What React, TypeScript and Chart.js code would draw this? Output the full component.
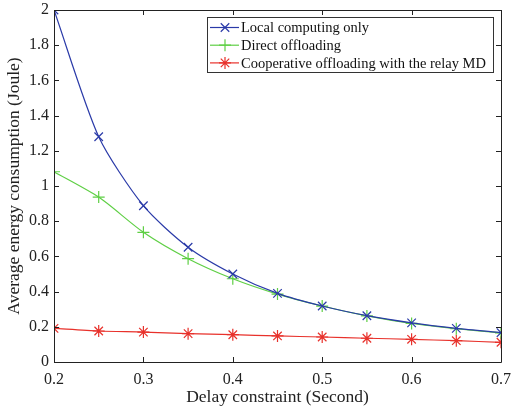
import React, { useEffect, useRef } from "react";
import { Chart, registerables } from "chart.js";

Chart.register(...registerables);

const delays = [0.2, 0.25, 0.3, 0.35, 0.4, 0.45, 0.5, 0.55, 0.6, 0.65, 0.7];
const localOnly = [2.0, 1.28, 0.888, 0.652, 0.5, 0.39, 0.318, 0.263, 0.222, 0.191, 0.167];
const directOff = [1.081, 0.937, 0.737, 0.587, 0.473, 0.386, 0.318, 0.262, 0.219, 0.189, 0.165];
const cooperative = [0.191, 0.176, 0.17, 0.161, 0.155, 0.148, 0.142, 0.135, 0.129, 0.121, 0.112];
const seriesNames = [
  "Local computing only",
  "Direct offloading",
  "Cooperative offloading with the relay MD",
];
const xTicks = [0.2, 0.3, 0.4, 0.5, 0.6, 0.7];
const yTicks = [0, 0.2, 0.4, 0.6, 0.8, 1, 1.2, 1.4, 1.6, 1.8, 2];

const BLUE = "#2a3aa8";
const GREEN = "#5fcf45";
const RED = "#e8312b";
const FONT = "'Liberation Serif', 'Times New Roman', serif";

function drawMarker(ctx: CanvasRenderingContext2D, style: string, x: number, y: number, r: number) {
  ctx.beginPath();
  if (style === "crossRot" || style === "star") {
    const d = r * Math.SQRT1_2;
    ctx.moveTo(x - d, y - d);
    ctx.lineTo(x + d, y + d);
    ctx.moveTo(x - d, y + d);
    ctx.lineTo(x + d, y - d);
  }
  if (style === "cross" || style === "star") {
    ctx.moveTo(x - r, y);
    ctx.lineTo(x + r, y);
    ctx.moveTo(x, y - r);
    ctx.lineTo(x, y + r);
  }
  ctx.stroke();
}

const framePlugin = {
  id: "frame",
  afterDraw(chart: any) {
    const { ctx, chartArea, scales } = chart;
    const { left, right, top, bottom } = chartArea;
    ctx.save();
    ctx.strokeStyle = "#222";
    ctx.lineWidth = 1;
    ctx.beginPath();
    ctx.rect(left + 0.5, top + 0.5, right - left, bottom - top);
    ctx.stroke();
    const tl = 5;
    ctx.beginPath();
    xTicks.forEach((v) => {
      const px = Math.round(scales.x.getPixelForValue(v)) + 0.5;
      ctx.moveTo(px, bottom);
      ctx.lineTo(px, bottom - tl);
      ctx.moveTo(px, top);
      ctx.lineTo(px, top + tl);
    });
    yTicks.forEach((v) => {
      const py = Math.round(scales.y.getPixelForValue(v)) + 0.5;
      ctx.moveTo(left, py);
      ctx.lineTo(left + tl, py);
      ctx.moveTo(right, py);
      ctx.lineTo(right - tl, py);
    });
    ctx.stroke();

    // legend
    const bx = 207.5, by = 17.5, bw = 286, bh = 55;
    ctx.fillStyle = "#fff";
    ctx.fillRect(bx, by, bw, bh);
    ctx.strokeStyle = "#333";
    ctx.strokeRect(bx, by, bw, bh);
    ctx.font = `14.5px ${FONT}`;
    ctx.textBaseline = "middle";
    ctx.textAlign = "left";
    chart.data.datasets.forEach((ds: any, i: number) => {
      const y = 27.5 + i * 17.7;
      ctx.strokeStyle = ds.borderColor;
      ctx.lineWidth = 1.2;
      ctx.beginPath();
      ctx.moveTo(210, y);
      ctx.lineTo(239, y);
      ctx.stroke();
      drawMarker(ctx, ds.pointStyle, 225, y, 6);
      ctx.fillStyle = "#111";
      ctx.fillText(ds.label, 241, y + 1);
    });
    ctx.restore();
  },
};

export default function App() {
  const ref = useRef<HTMLCanvasElement>(null);
  useEffect(() => {
    if (!ref.current) return;
    const mk = (label: string, data: number[], color: string, style: string) => ({
      label,
      data: delays.map((x, i) => ({ x, y: data[i] })),
      borderColor: color,
      backgroundColor: color,
      borderWidth: 1.2,
      pointStyle: style,
      pointRadius: 6,
      pointBorderWidth: 1.2,
      pointHoverRadius: 6,
      tension: 0.25,
      fill: false,
    });
    const chart = new Chart(ref.current, {
      type: "line",
      data: {
        datasets: [
          mk(seriesNames[0], localOnly, BLUE, "crossRot"),
          mk(seriesNames[1], directOff, GREEN, "cross"),
          mk(seriesNames[2], cooperative, RED, "star"),
        ],
      },
      options: {
        animation: false,
        responsive: false,
        events: [],
        layout: { padding: { top: 10, right: 10, left: 0, bottom: 0 } },
        plugins: { legend: { display: false }, tooltip: { enabled: false } },
        scales: {
          x: {
            type: "linear",
            min: 0.2,
            max: 0.7,
            afterFit: (s: any) => {
              s.height = 46;
              s.paddingLeft = 0;
              s.paddingRight = 0;
            },
            afterBuildTicks: (s: any) => { s.ticks = xTicks.map((v) => ({ value: v })); },
            grid: { display: false, drawTicks: false },
            border: { display: false },
            ticks: {
              padding: 8,
              color: "#222",
              font: { family: FONT, size: 16 },
              callback: (v: any) => Number(v).toFixed(1),
              maxRotation: 0,
            },
            title: {
              display: true,
              text: "Delay constraint (Second)",
              color: "#222",
              font: { family: FONT, size: 17.5 },
              padding: { top: 0, bottom: 0 },
            },
          },
          y: {
            type: "linear",
            min: 0,
            max: 2,
            afterFit: (s: any) => {
              s.width = 54;
              s.paddingTop = 0;
              s.paddingBottom = 0;
            },
            afterBuildTicks: (s: any) => { s.ticks = yTicks.map((v) => ({ value: v })); },
            grid: { display: false, drawTicks: false },
            border: { display: false },
            ticks: {
              padding: 5,
              color: "#222",
              font: { family: FONT, size: 16 },
              callback: (v: any) => String(Number(Number(v).toFixed(1))),
            },
            title: {
              display: true,
              text: "Average energy consumption (Joule)",
              color: "#222",
              font: { family: FONT, size: 17.5 },
              padding: { top: 4, bottom: 0 },
            },
          },
        },
      },
      plugins: [framePlugin],
    });
    return () => chart.destroy();
  }, []);
  return (
    <div style={{ position: "absolute", left: 0, top: 0, width: 511, height: 408, background: "#fff" }}>
      <canvas ref={ref} width={511} height={408} />
    </div>
  );
}
